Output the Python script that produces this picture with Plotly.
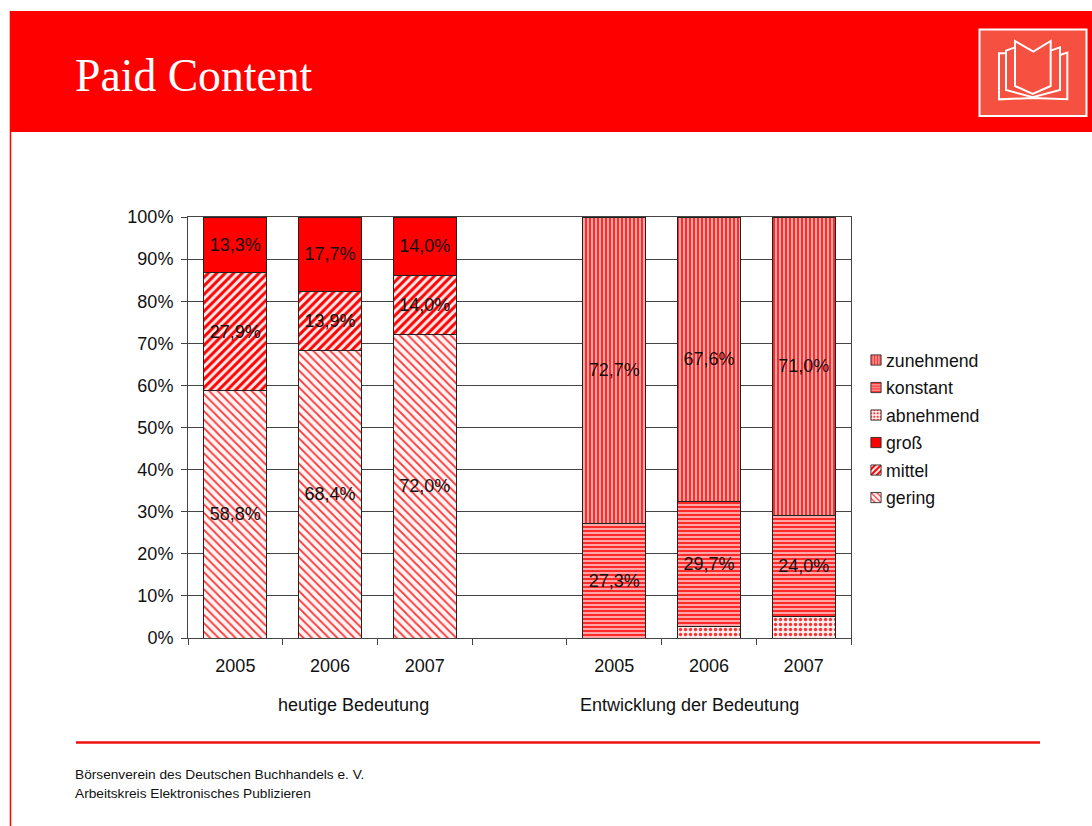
import plotly.graph_objects as go

years = ["2005", "2006", "2007", "", "2005", "2006", "2007"]
positions = [0, 1, 2, 3, 4, 5, 6]
gering = [58.8, 68.4, 72.0, None, None, None, None]
mittel = [27.9, 13.9, 14.0, None, None, None, None]
gross = [13.3, 17.7, 14.0, None, None, None, None]
abnehmend = [None, None, None, None, 0.0, 2.7, 5.0]
konstant = [None, None, None, None, 27.3, 29.7, 24.0]
zunehmend = [None, None, None, None, 72.7, 67.6, 71.0]
y_ticks = [0, 10, 20, 30, 40, 50, 60, 70, 80, 90, 100]

W, H = 1092, 826
L, R, T, B = 188, 851, 217, 638
RED = "#ff0000"
INK = "#111111"
AXIS = "#444444"
FONT = "Liberation Sans"


def px(x):
    return (x - L) / (R - L)


def py(y):
    return (B - y) / (B - T)


def zoom_path(points, close=False):
    coords = [(px(960 + a / 3), py(10 + b / 3)) for a, b in points]
    d = "M" + " L".join(f"{a:.5f},{b:.5f}" for a, b in coords)
    return d + (" Z" if close else "")


def fmt(values):
    return [None if v is None else f"{v:.1f}%".replace(".", ",") for v in values]


series = [
    ("gering", gering, dict(shape="\\", size=6, solidity=0.3, fgcolor="#ff3030", fgopacity=1, bgcolor="#fff4f4"), True),
    ("mittel", mittel, dict(shape="/", size=6, solidity=0.5, fgcolor=RED, fgopacity=1, bgcolor="#ffecec"), True),
    ("groß", gross, dict(shape="", fgcolor=RED, bgcolor=RED), True),
    ("abnehmend", abnehmend, dict(shape=".", size=5, solidity=0.35, fgcolor="#ff3030", fgopacity=1, bgcolor="#ffeeee"), False),
    ("konstant", konstant, dict(shape="-", size=4, solidity=0.55, fgcolor="#ff2a2a", fgopacity=1, bgcolor="#ffb4b4"), True),
    ("zunehmend", zunehmend, dict(shape="|", size=4, solidity=0.55, fgcolor="#ff2a2a", fgopacity=1, bgcolor="#ffb4b4"), True),
]

fig = go.Figure()
for i, (name, values, pattern, labelled) in enumerate(series):
    fig.add_trace(go.Bar(
        name=name,
        legendgroup=name,
        legendrank=100 * (len(series) - i),
        x=positions,
        y=values,
        width=0.665,
        marker=dict(color=pattern["bgcolor"], pattern=pattern, line=dict(color="#222222", width=1)),
        text=fmt(values) if labelled else None,
        textposition="inside" if labelled else "none",
        insidetextanchor="middle",
        textangle=0,
        constraintext="none",
        textfont=dict(family=FONT, size=18, color=INK),
        hoverinfo="skip",
    ))

shapes = [
    dict(type="rect", xref="paper", yref="paper", x0=px(11), x1=px(1092), y0=py(132), y1=py(11),
         fillcolor=RED, line_width=0, layer="below"),
    dict(type="line", xref="paper", yref="paper", x0=px(10.5), x1=px(10.5), y0=py(826), y1=py(11),
         line=dict(color=RED, width=1.5), layer="below"),
    dict(type="line", xref="paper", yref="paper", x0=px(76), x1=px(1040), y0=py(742.5), y1=py(742.5),
         line=dict(color="#ee1111", width=2.5), layer="below"),
    dict(type="rect", xref="paper", yref="paper", x0=px(979.5), x1=px(1086.5), y0=py(116), y1=py(29.5),
         fillcolor="#f55040", line=dict(color="white", width=2), layer="below"),
]
book = [
    [(165, 93), (220, 125), (272, 93), (272, 228), (218, 252), (165, 228)],
    [(165, 112), (138, 122), (138, 240), (218, 262), (300, 240), (300, 112), (272, 122)],
    [(138, 130), (117, 130), (117, 268), (218, 264), (322, 268), (322, 128), (300, 135)],
]
for i, path in enumerate(book):
    shapes.append(dict(type="path", xref="paper", yref="paper", path=zoom_path(path, close=i == 0),
                       line=dict(color="white", width=2), layer="below"))

annotations = [
    dict(text="Paid Content", x=px(75), y=py(75), xanchor="left", yanchor="middle",
         font=dict(family="Liberation Serif", size=45.7, color="white")),
    dict(text="heutige Bedeutung", x=px(353.5), y=py(705), xanchor="center", yanchor="middle",
         font=dict(family=FONT, size=18, color=INK)),
    dict(text="Entwicklung der Bedeutung", x=px(689), y=py(705), xanchor="center", yanchor="middle",
         font=dict(family=FONT, size=18, color=INK)),
    dict(text="Börsenverein des Deutschen Buchhandels e. V.", x=px(75), y=py(774), xanchor="left", yanchor="middle",
         font=dict(family=FONT, size=13.7, color=INK)),
    dict(text="Arbeitskreis Elektronisches Publizieren", x=px(75), y=py(793), xanchor="left", yanchor="middle",
         font=dict(family=FONT, size=13.7, color=INK)),
]
for a in annotations:
    a.update(xref="paper", yref="paper", showarrow=False, borderpad=0, borderwidth=0)

fig.update_layout(
    width=W, height=H, autosize=False,
    margin=dict(l=L, r=W - R, t=T, b=H - B, pad=0),
    paper_bgcolor="white", plot_bgcolor="white",
    barmode="stack",
    font=dict(family=FONT, size=18, color=INK),
    shapes=shapes, annotations=annotations,
    legend=dict(x=px(846), y=py(342), xanchor="left", yanchor="top", traceorder="grouped",
                font=dict(family=FONT, size=17.7, color=INK), bgcolor="rgba(0,0,0,0)",
                itemwidth=30, itemclick=False, itemdoubleclick=False, tracegroupgap=1.5),
    xaxis=dict(range=[-0.5, 6.5], tickmode="array", tickvals=positions, ticktext=years,
               ticks="", showgrid=False, zeroline=False, showline=True, linecolor=AXIS, linewidth=1,
               mirror=True, ticklabelstandoff=11, tickfont=dict(family=FONT, size=18, color=INK),
               minor=dict(tickmode="array", tickvals=[-0.5, 0.5, 1.5, 2.5, 3.5, 4.5, 5.5, 6.5],
                          ticks="outside", ticklen=6, tickcolor=AXIS, tickwidth=1, showgrid=False)),
    yaxis=dict(range=[0, 100], tickmode="array", tickvals=y_ticks, ticktext=[f"{v}%" for v in y_ticks],
               ticks="outside", ticklen=6, tickcolor=AXIS, tickwidth=1, showgrid=True, gridcolor=AXIS, gridwidth=1,
               zeroline=False, showline=True, linecolor=AXIS, linewidth=1, mirror=True, ticklabelstandoff=4,
               tickfont=dict(family=FONT, size=18, color=INK)),
)

# Tighten the legend swatches: smaller squares placed right next to their text.
post = """
document.body.style.margin = '0';
document.body.style.overflow = 'hidden';
document.querySelectorAll('.legend .legendpoints path').forEach(function (p) {
    p.setAttribute('transform', 'translate(30,0) scale(0.85)');
});
"""
fig.write_html("out.html", post_script=post, config=dict(displayModeBar=False))
